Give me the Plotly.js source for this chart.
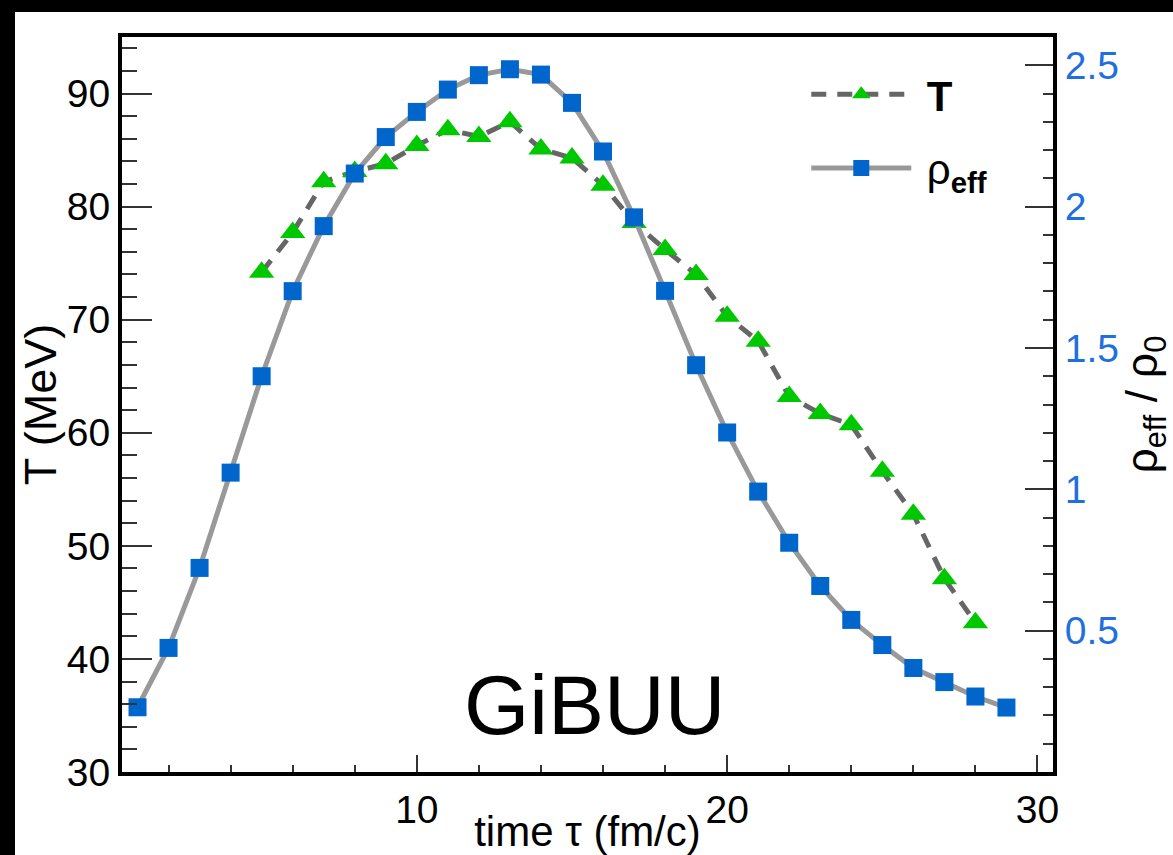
<!DOCTYPE html>
<html>
<head>
<meta charset="utf-8">
<script src="https://cdn.plot.ly/plotly-3.0.1.min.js"></script>
<style>
html,body{margin:0;padding:0;background:#000;width:1173px;height:855px;overflow:hidden;}
#chart{position:absolute;left:15px;top:12px;width:1158px;height:843px;background:#fff;}
</style>
</head>
<body>
<div id="chart"></div>
<script>
// time (fm/c) for effective density points
const timeRho = [1,2,3,4,5,6,7,8,9,10,11,12,13,14,15,16,17,18,19,20,21,22,23,24,25,26,27,28,29];
// rho_eff / rho_0
const rhoEff = [0.229,0.439,0.722,1.059,1.400,1.701,1.931,2.117,2.246,2.335,2.414,2.465,2.486,2.467,2.367,2.195,1.962,1.702,1.439,1.201,0.992,0.811,0.658,0.538,0.449,0.368,0.318,0.267,0.228];
// time (fm/c) for temperature points
const timeT = [5,6,7,8,9,10,11,12,13,14,15,16,17,18,19,20,21,22,23,24,25,26,27,28];
// temperature T (MeV)
const tempT = [74.2,77.7,82.2,83.1,83.8,85.4,86.8,86.2,87.5,85.1,84.3,81.9,78.6,76.2,74.0,70.3,68.1,63.2,61.7,60.7,56.6,52.8,47.1,43.2];

const leftTicks = [30,40,50,60,70,80,90];
const rightTicks = [0.5,1,1.5,2,2.5];
const rightTickText = ['0.5','1','1.5','2','2.5'];
const xTicks = [10,20,30];

const FONT = 'Liberation Sans, Arial, sans-serif';

const traces = [
  {
    x: timeT, y: tempT, yaxis: 'y', name: '\u2005<b>T</b>', type: 'scatter', mode: 'lines+markers',
    legendgroup: 'a',
    line: {color: '#666666', width: 5, dash: '15px,11px'},
    marker: {symbol: 'triangle-up', size: 22, color: '#00c800', line: {width: 0}}
  },
  {
    x: timeRho, y: rhoEff, yaxis: 'y2', name: '\u2005ρ<sub><b>eff</b></sub>', type: 'scatter', mode: 'lines+markers',
    legendgroup: 'b',
    line: {color: '#999999', width: 5},
    marker: {symbol: 'square', size: 18, color: '#0066cc', line: {width: 0}}
  }
];

const layout = {
  width: 1158, height: 843,
  margin: {l: 107, r: 120, t: 25, b: 83},
  paper_bgcolor: '#ffffff', plot_bgcolor: '#ffffff',
  font: {family: FONT, color: '#000', size: 39},
  showlegend: true,
  legend: {
    x: 0.735, y: 0.968, xanchor: 'left', yanchor: 'top',
    bgcolor: 'rgba(0,0,0,0)', font: {size: 42, family: FONT, color: '#000'},
    itemwidth: 100, traceorder: 'grouped', tracegroupgap: 16
  },
  xaxis: {
    range: [0.5, 30.5], showgrid: false, zeroline: false,
    showline: true, linewidth: 4, linecolor: '#000', mirror: true,
    ticks: 'inside', ticklen: 17, tickwidth: 2, tickcolor: '#333',
    tickvals: xTicks, ticktext: xTicks.map(String),
    tickfont: {size: 39, family: FONT, color: '#000'},
    minor: {dtick: 2, tick0: 0, ticks: 'inside', ticklen: 7, tickwidth: 2, tickcolor: '#333', showgrid: false},
    title: {text: 'time τ (fm/c)', font: {size: 42, family: FONT, color: '#000'}, standoff: 0}
  },
  yaxis: {
    range: [30, 95], showgrid: false, zeroline: false,
    showline: true, linewidth: 4, linecolor: '#000',
    ticks: 'inside', ticklen: 30, tickwidth: 2, tickcolor: '#333',
    tickvals: leftTicks, ticktext: leftTicks.map(String),
    tickfont: {size: 39, family: FONT, color: '#000'},
    minor: {dtick: 2, tick0: 30, ticks: 'inside', ticklen: 15, tickwidth: 2, tickcolor: '#333', showgrid: false},
    title: {text: 'T (MeV)', font: {size: 45, family: FONT, color: '#000'}, standoff: 8}
  },
  yaxis2: {
    overlaying: 'y', side: 'right', range: [0, 2.6],
    showgrid: false, zeroline: false,
    showline: true, linewidth: 4, linecolor: '#000',
    ticks: 'inside', ticklen: 28, tickwidth: 2, tickcolor: '#333',
    tickvals: rightTicks, ticktext: rightTickText,
    tickfont: {size: 39, family: FONT, color: '#1f6fdf'},
    minor: {dtick: 0.1, tick0: 0, ticks: 'inside', ticklen: 10, tickwidth: 2, tickcolor: '#333', showgrid: false},
    title: {text: 'ρ<sub>eff</sub> / ρ<sub>0</sub>', font: {size: 44, family: FONT, color: '#000'}, standoff: 10}
  },
  annotations: [
    {text: 'GiBUU', xref: 'paper', yref: 'paper', x: 0.508, y: 0.091, xanchor: 'center', yanchor: 'middle',
     showarrow: false, font: {size: 84, family: FONT, color: '#000'}}
  ]
};

Plotly.newPlot('chart', traces, layout, {displayModeBar: false, staticPlot: true});
</script>
</body>
</html>
